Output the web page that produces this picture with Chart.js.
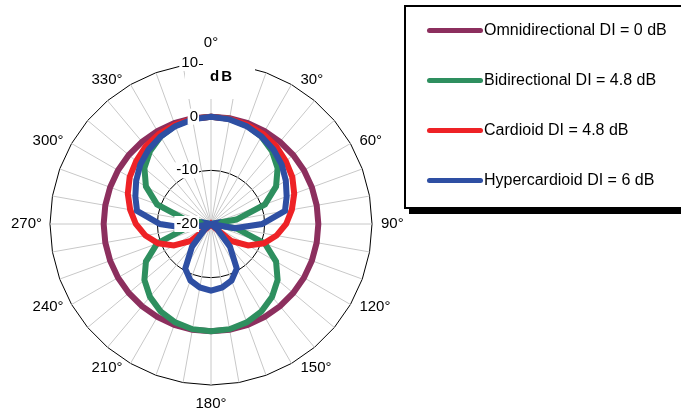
<!DOCTYPE html>
<html>
<head>
<meta charset="utf-8">
<script src="https://cdn.jsdelivr.net/npm/chart.js@4.4.1/dist/chart.umd.min.js"></script>
<style>
    html, body { margin: 0; padding: 0; background: #fff; }
    body { width: 681px; height: 414px; position: relative; overflow: hidden; font-family: "Liberation Sans", Arial, sans-serif; }
    #chart-wrap { position: absolute; left: 0; top: 0; width: 422px; height: 414px; }
    .legend-box {
        position: absolute; left: 404px; top: 5px; width: 300px; height: 200px;
        border: 2px solid #000; background: #fff; box-shadow: 5px 5px 0 #000;
    }
    .legend-item { position: absolute; left: 21px; height: 20px; display: flex; align-items: center; font-size: 16px; color: #000; white-space: nowrap; }
    .legend-swatch { width: 56px; height: 5px; border-radius: 3px; margin-right: 1px; }
</style>
</head>
<body>
<div id="chart-wrap"><canvas id="polar-chart"></canvas></div>
<div class="legend-box" id="legend"></div>
<script>
// ---- DATA (dB, every 10 degrees, clockwise from 0°) ----
const angleLabels = ['0°', '10°', '20°', '30°', '40°', '50°', '60°', '70°', '80°', '90°', '100°', '110°',
    '120°', '130°', '140°', '150°', '160°', '170°', '180°', '190°', '200°', '210°', '220°', '230°',
    '240°', '250°', '260°', '270°', '280°', '290°', '300°', '310°', '320°', '330°', '340°', '350°'];

const seriesNames = ['Omnidirectional DI = 0 dB', 'Bidirectional DI = 4.8 dB', 'Cardioid DI = 4.8 dB', 'Hypercardioid DI = 6 dB'];

const omniValues = [0, 0, 0, 0, 0, 0, 0, 0, 0, 0, 0, 0, 0, 0, 0, 0, 0, 0,
    0, 0, 0, 0, 0, 0, 0, 0, 0, 0, 0, 0, 0, 0, 0, 0, 0, 0];

const bidirValues = [0, -0.1, -0.5, -1.2, -2.3, -3.8, -6.0, -9.3, -15.2, -20, -15.2, -9.3, -6.0, -3.8, -2.3, -1.2, -0.5, -0.1,
    0, -0.1, -0.5, -1.2, -2.3, -3.8, -6.0, -9.3, -15.2, -20, -15.2, -9.3, -6.0, -3.8, -2.3, -1.2, -0.5, -0.1];

const cardioidValues = [0, -0.1, -0.3, -0.6, -1.1, -1.8, -2.5, -3.5, -4.7, -6.0, -7.6, -9.5, -12.0, -15.1, -19.5, -20, -20, -20,
    -20, -20, -20, -20, -19.5, -15.1, -12.0, -9.5, -7.6, -6.0, -4.7, -3.5, -2.5, -1.8, -1.1, -0.6, -0.3, -0.1];

const hyperValues = [0, -0.2, -0.6, -1.2, -1.9, -2.8, -3.9, -5.0, -6.0, -10.5, -15.5, -20, -20, -18.5, -14.5, -10.4, -8.8, -8.0,
    -7.6, -8.0, -8.8, -10.4, -14.5, -18.5, -20, -20, -15.5, -10.5, -6.0, -5.0, -3.9, -2.8, -1.9, -1.2, -0.6, -0.2];

const tickValues = [10, 0, -10, -20];
const tickLabels = ['10', '0', '-10', '-20'];

const seriesColors = ['#8C2F5E', '#2E8F5F', '#EE2226', '#2E4FA3'];

const FONT = '"Liberation Sans", Arial, sans-serif';

// ---- LEGEND ----
const legendEl = document.getElementById('legend');
seriesNames.forEach((name, i) => {
    const item = document.createElement('div');
    item.className = 'legend-item';
    item.style.top = (13 + i * 50) + 'px';
    item.innerHTML = `<span class="legend-swatch" style="background:${seriesColors[i]}"></span>${name}`;
    legendEl.appendChild(item);
});

// Angle labels every 30 degrees, placed next to the end of their spoke
const angleLabelPlugin = {
    id: 'angleLabels',
    afterDraw(chart) {
        const r = chart.scales.r;
        const ctx = chart.ctx;
        ctx.save();
        ctx.font = '15px ' + FONT;
        ctx.fillStyle = '#000';
        angleLabels.forEach((label, i) => {
            if (i % 3 !== 0) return;
            const a = r.getIndexAngle(i);
            const s = Math.sin(a), c = Math.cos(a);
            const end = r.getPointPosition(i, r.drawingArea);
            if (Math.abs(s) < 0.01) {
                ctx.textAlign = 'center';
                ctx.textBaseline = c > 0 ? 'bottom' : 'top';
                ctx.fillText(label, end.x, c > 0 ? end.y - 13 : end.y + 11);
            } else {
                ctx.textAlign = s > 0 ? 'left' : 'right';
                ctx.textBaseline = 'middle';
                ctx.fillText(label, end.x + (s > 0 ? 9 : -8), end.y - 5 * c);
            }
        });
        ctx.restore();
    }
};

// Axis labels drawn on the 0° spoke, right aligned, with white backdrop
const axisLabelPlugin = {
    id: 'axisLabels',
    afterDraw(chart) {
        const r = chart.scales.r;
        const ctx = chart.ctx;
        const cx = r.xCenter, cy = r.yCenter;
        ctx.save();
        // title area at the top of the axis
        const topY = cy - r.getDistanceFromCenterForValue(10);
        ctx.fillStyle = '#fff';
        ctx.fillRect(cx - 26, topY - 8, 70, 44);
        ctx.font = '15px ' + FONT;
        ctx.textAlign = 'right';
        ctx.textBaseline = 'middle';
        tickValues.forEach((v, i) => {
            const y = cy - r.getDistanceFromCenterForValue(v);
            const w = ctx.measureText(tickLabels[i]).width;
            ctx.fillStyle = '#fff';
            ctx.fillRect(cx - 14 - w - 1, y - 8, w + 3, 16);
            ctx.fillStyle = '#000';
            ctx.fillText(tickLabels[i], cx - 13, y);
        });
        // small tick mark after the top label
        ctx.strokeStyle = '#000';
        ctx.lineWidth = 1;
        ctx.beginPath();
        ctx.moveTo(cx - 12, topY + 1.5);
        ctx.lineTo(cx - 8, topY + 1.5);
        ctx.stroke();
        ctx.font = 'bold 15px ' + FONT;
        ctx.letterSpacing = '2px';
        ctx.textAlign = 'center';
        ctx.fillText('dB', cx + 11, topY + 14);
        ctx.restore();
    }
};

new Chart(document.getElementById('polar-chart'), {
    type: 'radar',
    data: {
        labels: angleLabels,
        datasets: [omniValues, bidirValues, cardioidValues, hyperValues].map((vals, i) => ({
            label: seriesNames[i],
            data: vals,
            borderColor: seriesColors[i],
            borderWidth: 6,
            fill: false,
            pointRadius: 0,
            tension: 0,
            order: 4 - i
        }))
    },
    options: {
        responsive: true,
        maintainAspectRatio: false,
        animation: false,
        layout: {
            padding: { top: 63, bottom: 29, left: 50, right: 50 }
        },
        plugins: {
            legend: { display: false },
            tooltip: { enabled: false }
        },
        scales: {
            r: {
                min: -20,
                max: 10,
                startAngle: 0,
                ticks: { stepSize: 10, display: false },
                grid: {
                    circular: false,
                    color: (c) => (c.tick && (c.tick.value === 10 || c.tick.value === -10)) ? '#000' : 'rgba(0,0,0,0)',
                    lineWidth: 1
                },
                angleLines: { color: '#c8c8c8', lineWidth: 1 },
                pointLabels: { display: false }
            }
        }
    },
    plugins: [angleLabelPlugin, axisLabelPlugin]
});
</script>
</body>
</html>
